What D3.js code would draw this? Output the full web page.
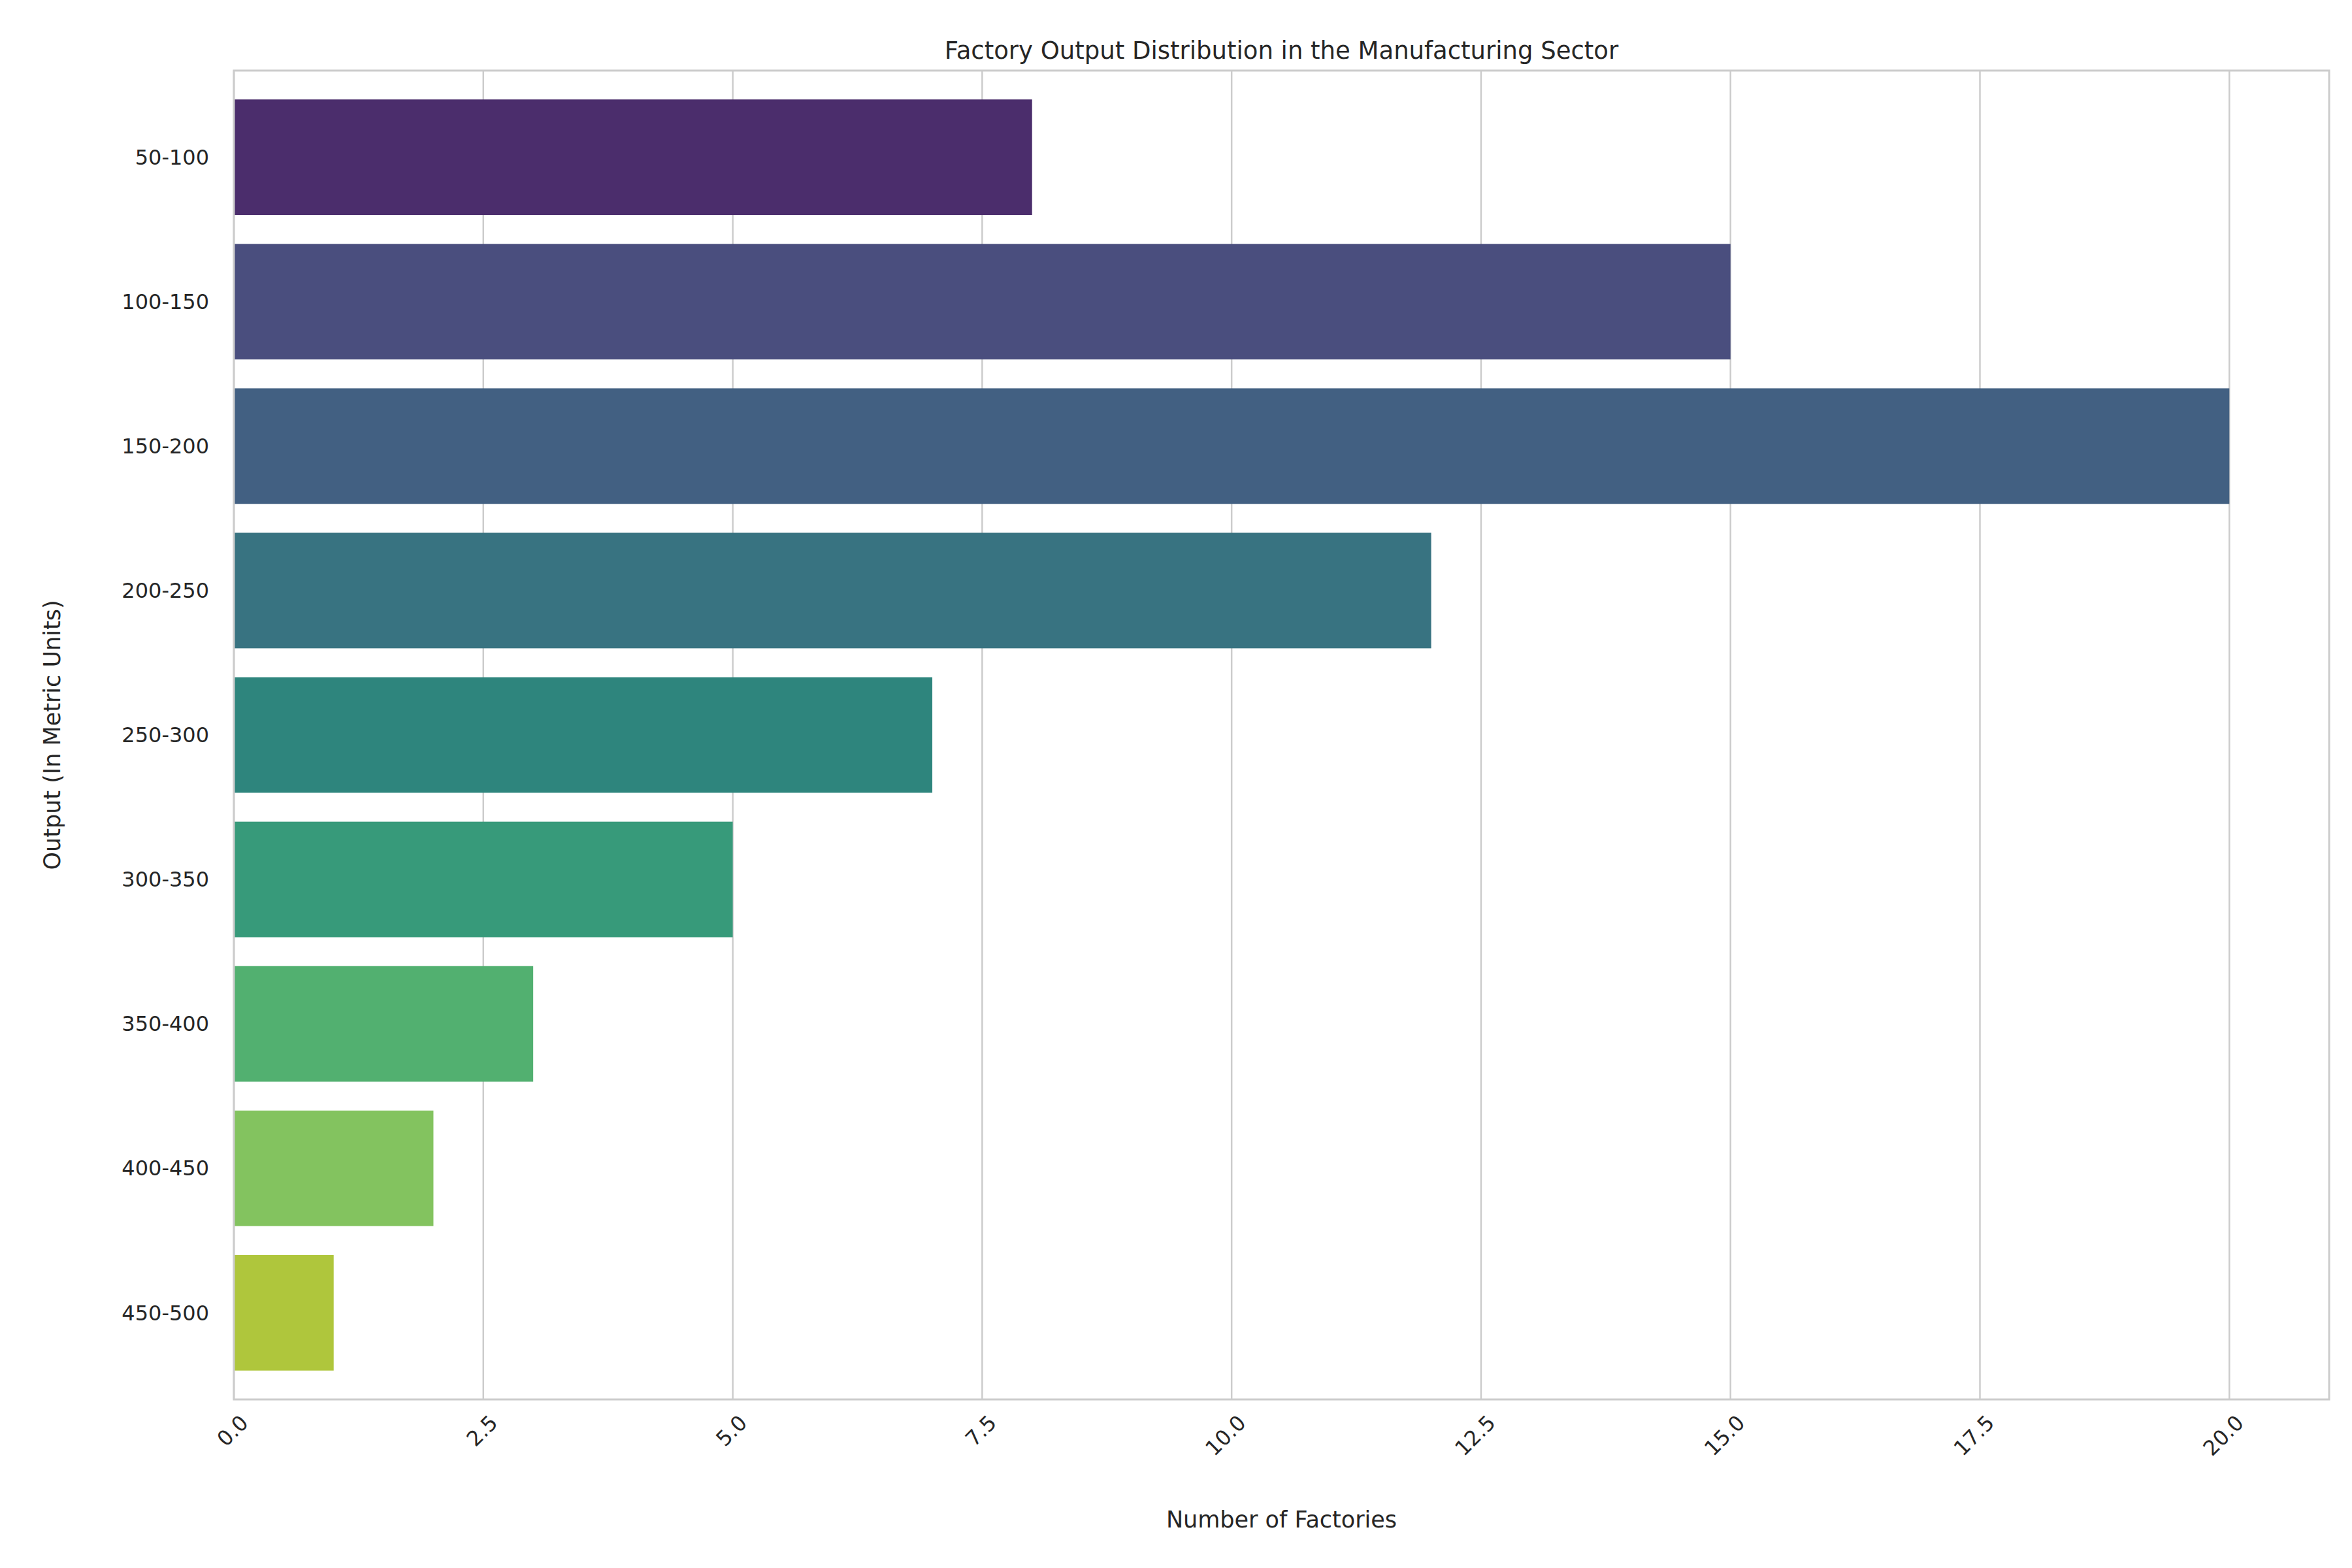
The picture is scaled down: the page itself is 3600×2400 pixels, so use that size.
<!DOCTYPE html>
<html><head><meta charset="utf-8">
<script src="https://cdn.jsdelivr.net/npm/d3@7"></script>
<style>body{margin:0;background:#fff}text{font-family:"DejaVu Sans",sans-serif;fill:#262626}</style>
</head><body><svg id="c" width="3600" height="2400"></svg>
<script>
const categories=["50-100","100-150","150-200","200-250","250-300","300-350","350-400","400-450","450-500"];
const values=[8,15,20,12,7,5,3,2,1];
const colors=["#4b2d6c","#4a4e7e","#426082","#387381","#2e857d","#379a7a","#52b070","#83c35f","#afc63c"];
const xTicks=[0,2.5,5,7.5,10,12.5,15,17.5,20];
const svg=d3.select("#c");
const L=358,R=3565,T=108,B=2142;
const x=d3.scaleLinear().domain([0,21]).range([L,R]);
const y=d3.scaleBand().domain(categories).range([T,B]).padding(0.2);
svg.append("g").selectAll("line").data(xTicks).join("line")
 .attr("x1",d=>x(d)).attr("x2",d=>x(d)).attr("y1",T).attr("y2",B)
 .attr("stroke","#cccccc").attr("stroke-width",2.5);
svg.append("g").selectAll("rect").data(values).join("rect")
 .attr("x",x(0)).attr("y",(d,i)=>y(categories[i])).attr("height",y.bandwidth())
 .attr("width",d=>x(d)-x(0)).attr("fill",(d,i)=>colors[i]);
svg.append("rect").attr("x",L).attr("y",T).attr("width",R-L).attr("height",B-T)
 .attr("fill","none").attr("stroke","#cccccc").attr("stroke-width",3);
svg.append("g").selectAll("text").data(xTicks).join("text")
 .attr("transform",d=>`translate(${x(d)+8},${B+22}) rotate(-45)`)
 .attr("text-anchor","end").attr("dy","0.7em").attr("font-size",32)
 .text(d=>d.toFixed(1));
svg.append("g").selectAll("text").data(categories).join("text")
 .attr("x",L-38).attr("y",d=>y(d)+y.bandwidth()/2).attr("dy","0.35em")
 .attr("text-anchor","end").attr("font-size",32).text(d=>d);
svg.append("text").attr("x",(L+R)/2).attr("y",90).attr("text-anchor","middle")
 .attr("font-size",37).text("Factory Output Distribution in the Manufacturing Sector");
svg.append("text").attr("x",(L+R)/2).attr("y",2338).attr("text-anchor","middle")
 .attr("font-size",35).text("Number of Factories");
svg.append("text").attr("transform",`translate(92,${(T+B)/2}) rotate(-90)`).attr("text-anchor","middle")
 .attr("font-size",35).text("Output (In Metric Units)");
</script></body></html>
